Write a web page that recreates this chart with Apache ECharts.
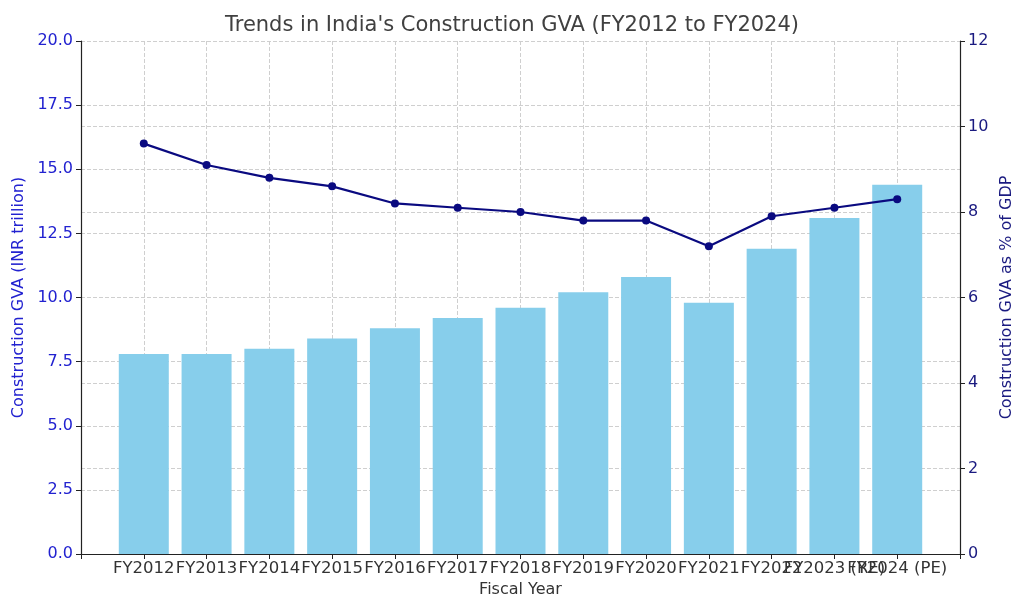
<!DOCTYPE html>
<html>
<head>
<meta charset="utf-8">
<script src="https://cdn.jsdelivr.net/npm/echarts@6/dist/echarts.min.js"></script>
<style>html,body{margin:0;padding:0;background:#fff}#c{width:1024px;height:614px}</style>
</head>
<body>
<div id="c"></div>
<script>
const categories = ['FY2012','FY2013','FY2014','FY2015','FY2016','FY2017','FY2018','FY2019','FY2020','FY2021','FY2022','FY2023 (RE)','FY2024 (PE)'];
const gvaTrillion = [7.8, 7.8, 8.0, 8.4, 8.8, 9.2, 9.6, 10.2, 10.8, 9.8, 11.9, 13.1, 14.4];
const gvaPctGdp = [9.6, 9.1, 8.8, 8.6, 8.2, 8.1, 8.0, 7.8, 7.8, 7.2, 7.9, 8.1, 8.3];
const leftTicks = {min: 0, max: 20, interval: 2.5};
const rightTicks = {min: 0, max: 12, interval: 2};

// pad with empty slots at both ends to mimic plot margins
const cats = [''].concat(categories, ['']);
const bars = [null].concat(gvaTrillion, [null]);
const line = [null].concat(gvaPctGdp, [null]);

const font = 'DejaVu Sans';
const grid = {type: 'dashed', color: '#cfcfcf', width: 1};
const chart = echarts.init(document.getElementById('c'));
chart.setOption({
  animation: false,
  textStyle: {fontFamily: font},
  title: {text: "Trends in India's Construction GVA (FY2012 to FY2024)", left: 'center', top: 10,
    textStyle: {fontFamily: font, fontSize: 21, fontWeight: 'normal', color: '#404040'}},
  grid: {left: 81, right: 64, top: 41, bottom: 60, containLabel: false},
  xAxis: {
    type: 'category', data: cats, boundaryGap: false,
    name: 'Fiscal Year', nameLocation: 'middle', nameGap: 28,
    nameTextStyle: {fontFamily: font, fontSize: 16, color: '#333'},
    axisLine: {lineStyle: {color: '#222', width: 1.2}},
    axisTick: {show: true, length: 5, inside: false, lineStyle: {color: '#222'}, interval: 0},
    axisLabel: {interval: 0, hideOverlap: false, fontSize: 16.5, color: '#333', margin: 6, fontFamily: font},
    splitLine: {show: true, interval: 0, lineStyle: grid}
  },
  yAxis: [
    {type: 'value', min: leftTicks.min, max: leftTicks.max, interval: leftTicks.interval,
     name: 'Construction GVA (INR trillion)', nameLocation: 'middle', nameGap: 52,
     nameTextStyle: {fontFamily: font, fontSize: 16, color: '#2222d0'},
     axisLine: {show: true, lineStyle: {color: '#222', width: 1.2}},
     axisTick: {show: true, length: 5, lineStyle: {color: '#222'}},
     axisLabel: {fontSize: 16, color: '#2222d0', margin: 8, fontFamily: font, formatter: v => v.toFixed(1)},
     splitLine: {show: true, lineStyle: grid}},
    {type: 'value', min: rightTicks.min, max: rightTicks.max, interval: rightTicks.interval, position: 'right',
     name: 'Construction GVA as % of GDP', nameLocation: 'middle', nameGap: 29,
     nameTextStyle: {fontFamily: font, fontSize: 16, color: '#1a1a80'},
     axisLine: {show: true, lineStyle: {color: '#222', width: 1.2}},
     axisTick: {show: true, length: 5, lineStyle: {color: '#222'}},
     axisLabel: {fontSize: 16, color: '#1a1a80', margin: 8, fontFamily: font},
     splitLine: {show: true, lineStyle: grid}}
  ],
  series: [
    {type: 'bar', data: bars, yAxisIndex: 0, barWidth: 50,
     itemStyle: {color: '#87CEEB'}},
    {type: 'line', data: line, yAxisIndex: 1, symbol: 'circle', symbolSize: 8,
     lineStyle: {color: '#0a0a80', width: 2.2}, itemStyle: {color: '#0a0a80'}, z: 5}
  ]
});
</script>
</body>
</html>
